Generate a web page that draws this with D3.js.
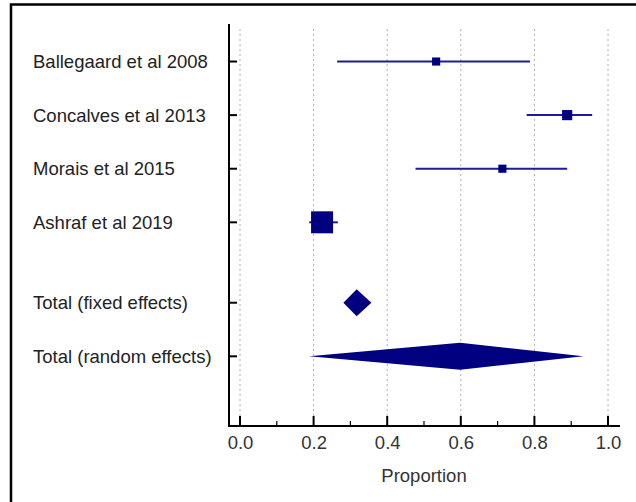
<html>
<head>
<title>forest-plot</title>
<script src="https://d3js.org/d3.v7.min.js"></script>
<style>
  body { margin: 0; background: #fff; }
  text { font-family: "Liberation Sans", Arial, sans-serif; }
</style>
</head>
<body>
<script>
// studies
const studies = ["Ballegaard et al 2008", "Concalves et al 2013", "Morais et al 2015", "Ashraf et al 2019"];
const studyEst = [0.533, 0.889, 0.713, 0.223];
const studyLo = [0.264, 0.779, 0.477, 0.188];
const studyHi = [0.788, 0.957, 0.889, 0.266];
const studyWeight = [9.2, 14.3, 9.2, 67.3]; // % weight

// pooled
const pooled = ["Total (fixed effects)", "Total (random effects)"];
const pooledEst = [0.317, 0.598];
const pooledLo = [0.281, 0.188];
const pooledHi = [0.357, 0.933];

const xTicks = [0, 0.2, 0.4, 0.6, 0.8, 1.0];
const xMinor = [0.1, 0.3, 0.5, 0.7, 0.9];
const rowPos = [0, 1, 2, 3, 4.5, 5.5];

const w = 636, h = 502;
const fs = "18.5px";
const svg = d3.select("body").append("svg").attr("width", w).attr("height", h);

// frame
svg.append("rect")
  .attr("x", 11).attr("y", 4.5).attr("width", 700).attr("height", 600)
  .attr("fill", "none").attr("stroke", "#000").attr("stroke-width", 2.5);

const x = d3.scaleLinear().domain([0, 1]).range([240, 608]);
const y = d3.scaleLinear().domain([-0.7, 6.8]).range([24, 426]);
const axisX0 = 229, axisX1 = 620, axisY = 426;

// grid
svg.append("g").selectAll("line").data(xTicks).join("line")
  .attr("x1", d => x(d)).attr("x2", d => x(d))
  .attr("y1", 29).attr("y2", axisY)
  .attr("stroke", "#b0b0b0").attr("stroke-width", 1)
  .attr("stroke-dasharray", "2,3");

// x axis
const xAxis = d3.axisBottom(x).tickValues(xTicks).tickSize(0).tickFormat(d3.format(".1f"));
const gx = svg.append("g").attr("transform", "translate(0," + axisY + ")").call(xAxis);
gx.select(".domain").remove();
gx.selectAll("text").attr("dy", 0).attr("y", 23)
  .style("font-size", fs).attr("fill", "#333");
gx.append("line").attr("x1", axisX0).attr("x2", axisX1).attr("y1", 0).attr("y2", 0)
  .attr("stroke", "#000").attr("stroke-width", 2);
gx.selectAll(".major").data(xTicks).join("line").attr("class", "major")
  .attr("x1", d => x(d)).attr("x2", d => x(d)).attr("y1", 0).attr("y2", -10)
  .attr("stroke", "#000").attr("stroke-width", 2);
gx.selectAll(".minor").data(xMinor).join("line").attr("class", "minor")
  .attr("x1", d => x(d)).attr("x2", d => x(d)).attr("y1", 0).attr("y2", -5)
  .attr("stroke", "#000").attr("stroke-width", 1.2);

svg.append("text").attr("x", 424).attr("y", 482).attr("text-anchor", "middle")
  .style("font-size", fs).attr("fill", "#333").text("Proportion");

// y axis
svg.append("line").attr("x1", axisX0).attr("x2", axisX0).attr("y1", 24).attr("y2", axisY + 1)
  .attr("stroke", "#000").attr("stroke-width", 2);
const labels = studies.concat(pooled);
svg.append("g").selectAll("line").data(rowPos).join("line")
  .attr("x1", axisX0).attr("x2", axisX0 + 8)
  .attr("y1", d => y(d)).attr("y2", d => y(d))
  .attr("stroke", "#000").attr("stroke-width", 2);
svg.append("g").selectAll("text").data(labels).join("text")
  .attr("x", 33).attr("y", (d, i) => y(rowPos[i]))
  .attr("dy", "0.35em")
  .style("font-size", fs).attr("fill", "#222")
  .text(d => d);

const navy = "#000080";
const size = d3.scaleSqrt().domain([0, d3.max(studyWeight)]).range([0, 22]);

// study CIs and squares
const gs = svg.append("g");
gs.selectAll("line").data(studies).join("line")
  .attr("x1", (d, i) => x(studyLo[i])).attr("x2", (d, i) => x(studyHi[i]))
  .attr("y1", (d, i) => y(rowPos[i])).attr("y2", (d, i) => y(rowPos[i]))
  .attr("stroke", "#1c1c96").attr("stroke-width", 2);
gs.selectAll("rect").data(studies).join("rect")
  .attr("x", (d, i) => x(studyEst[i]) - size(studyWeight[i]) / 2)
  .attr("y", (d, i) => y(rowPos[i]) - size(studyWeight[i]) / 2)
  .attr("width", (d, i) => size(studyWeight[i]))
  .attr("height", (d, i) => size(studyWeight[i]))
  .attr("fill", navy);

// pooled diamonds
const dh = 13.5;
svg.append("g").selectAll("path").data(pooled).join("path")
  .attr("d", (d, i) => {
    const cy = y(rowPos[i + 4]);
    return "M" + x(pooledLo[i]) + "," + cy +
      "L" + x(pooledEst[i]) + "," + (cy - dh) +
      "L" + x(pooledHi[i]) + "," + cy +
      "L" + x(pooledEst[i]) + "," + (cy + dh) + "Z";
  })
  .attr("fill", navy);
</script>
</body>
</html>
